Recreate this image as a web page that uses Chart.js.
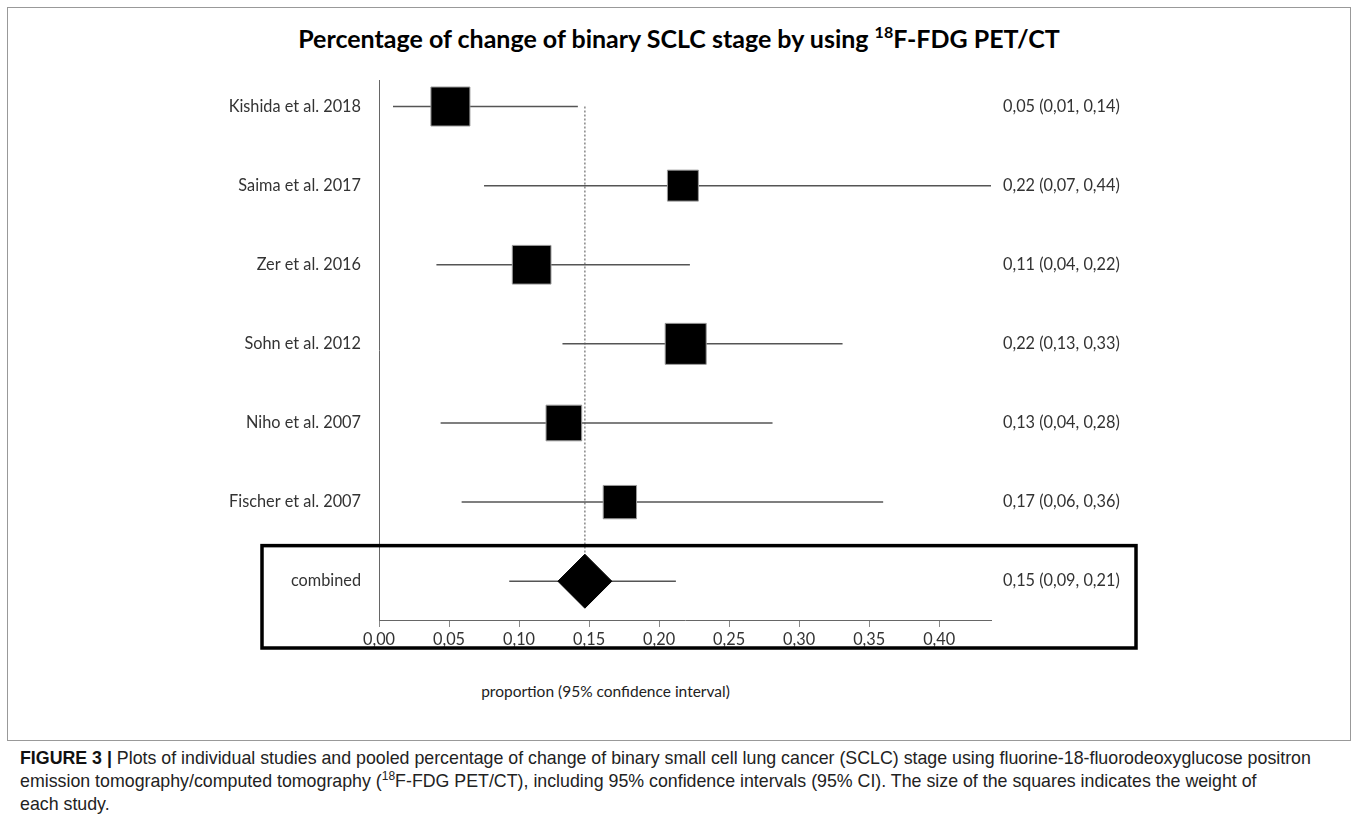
<!DOCTYPE html>
<html>
<head>
<meta charset="utf-8">
<script src="https://cdn.jsdelivr.net/npm/chart.js@4.4.1/dist/chart.umd.min.js"></script>
<style>
  body { margin: 0; background: #fff; width: 1358px; height: 816px; position: relative; overflow: hidden; }
  #frame { position: absolute; left: 7px; top: 7px; width: 1342px; height: 732px; border: 1px solid #999; }
  #title { position: absolute; left: 0; top: 23px; width: 1358px; text-align: center; font: bold 25px Lato, sans-serif; color: #000; }
  #title sup { font-size: 16px; vertical-align: 10px; line-height: 0; }
  #axisTitle { position: absolute; left: 378px; width: 455px; top: 682px; text-align: center; font: 15.5px Lato, sans-serif; color: #222; }
  #wrap { position: absolute; left: 0; top: 0; width: 1358px; height: 660px; }
  #caption { position: absolute; left: 20px; top: 747px; font: 17.8px "Liberation Sans", Arial, sans-serif; color: #222; line-height: 23px; white-space: nowrap; }
  #caption b { color: #111; }
  #caption sup { font-size: 12px; line-height: 0; }
</style>
</head>
<body>
<div id="frame"></div>
<div id="title">Percentage of change of binary SCLC stage by using <sup>18</sup>F-FDG PET/CT</div>
<div id="wrap"><canvas id="forest"></canvas></div>
<div id="axisTitle">proportion (95% confidence interval)</div>
<div id="caption"><b>FIGURE 3 |</b> Plots of individual studies and pooled percentage of change of binary small cell lung cancer (SCLC) stage using fluorine-18-fluorodeoxyglucose positron<br>emission tomography/computed tomography (<sup>18</sup>F-FDG PET/CT), including 95% confidence intervals (95% CI). The size of the squares indicates the weight of<br>each study.</div>
<script>
// studies, top to bottom
const studies = ['Kishida et al. 2018', 'Saima et al. 2017', 'Zer et al. 2016', 'Sohn et al. 2012', 'Niho et al. 2007', 'Fischer et al. 2007'];
const estimates = [0.051, 0.217, 0.109, 0.219, 0.132, 0.172];
const lower = [0.010, 0.075, 0.041, 0.131, 0.044, 0.059];
const upper = [0.142, 0.44, 0.222, 0.331, 0.281, 0.36];
const weights = [18.9, 11.9, 18.6, 20.9, 15.8, 13.8]; // % weight (square area)
const ciLabels = ['0,05 (0,01, 0,14)', '0,22 (0,07, 0,44)', '0,11 (0,04, 0,22)', '0,22 (0,13, 0,33)', '0,13 (0,04, 0,28)', '0,17 (0,06, 0,36)'];

// pooled
const pooledLabel = 'combined';
const pooledEst = 0.147;
const pooledLower = 0.093;
const pooledUpper = 0.212;
const pooledCiLabel = '0,15 (0,09, 0,21)';

const xTicks = [0, 0.05, 0.10, 0.15, 0.20, 0.25, 0.30, 0.35, 0.40];

// row positions: first study on top, combined at 0
const rows = studies.map((s, i) => studies.length - i);
const leftLabels = {}; const rightLabels = {};
studies.forEach((s, i) => { leftLabels[rows[i]] = s; rightLabels[rows[i]] = ciLabels[i]; });
leftLabels[0] = pooledLabel; rightLabels[0] = pooledCiLabel;

const font = { family: 'Lato, sans-serif', size: 16.3 };
const fixedTicks = (scale) => { scale.ticks = [0].concat(rows.slice().reverse()).map(v => ({ value: v })); };

const ciSets = studies.map((s, i) => ({
  type: 'line',
  data: [{ x: lower[i], y: rows[i] }, { x: upper[i], y: rows[i] }],
  borderColor: '#555', borderWidth: 1.5, pointRadius: 0, order: 3
}));
ciSets.push({
  type: 'line',
  data: [{ x: pooledLower, y: 0 }, { x: pooledUpper, y: 0 }],
  borderColor: '#555', borderWidth: 1.5, pointRadius: 0, order: 3
});

const boxPlugin = {
  id: 'pooledBox',
  afterDraw(chart) {
    const { ctx, chartArea, scales } = chart;
    const top = scales.y.getPixelForValue(0.45);
    const bottom = chartArea.bottom + 28;
    const left = chartArea.left - 117;
    const right = chartArea.right + 145;
    ctx.save();
    ctx.strokeStyle = '#000';
    ctx.lineWidth = 3.5;
    ctx.strokeRect(left, top, right - left, bottom - top);
    ctx.restore();
  }
};

new Chart(document.getElementById('forest'), {
  type: 'scatter',
  data: {
    datasets: [
      {
        type: 'line',
        data: [{ x: pooledEst, y: rows[0] }, { x: pooledEst, y: 0 }],
        borderColor: '#888', borderWidth: 1.5, borderDash: [2, 2], pointRadius: 0, order: 4
      },
      ...ciSets,
      {
        data: estimates.map((v, i) => ({ x: v, y: rows[i] })),
        pointStyle: 'rect',
        pointRadius: weights.map(w => Math.sqrt(w) * 8.97 * Math.SQRT1_2),
        backgroundColor: '#000', borderColor: '#999', borderWidth: 1, order: 1
      },
      {
        data: [{ x: pooledEst, y: 0 }],
        pointStyle: 'rectRot', pointRadius: 27,
        backgroundColor: '#000', borderColor: '#000', borderWidth: 1, order: 1
      }
    ]
  },
  options: {
    responsive: true,
    maintainAspectRatio: false,
    animation: false,
    events: [],
    layout: { padding: { top: 80, left: 0, right: 0, bottom: 0 } },
    plugins: { legend: { display: false }, tooltip: { enabled: false } },
    scales: {
      x: {
        type: 'linear', min: 0, max: 0.437,
        afterBuildTicks: (scale) => { scale.ticks = xTicks.map(v => ({ value: v })); },
        afterFit: (scale) => { scale.height = 40; },
        grid: { drawOnChartArea: false, drawTicks: true, tickLength: 7, color: '#888' },
        border: { color: '#666', width: 1 },
        ticks: { font, color: '#333', padding: 3, maxRotation: 0, callback: v => v.toFixed(2).replace('.', ',') }
      },
      y: {
        type: 'linear', min: -0.49, max: 6.335, position: 'left',
        afterBuildTicks: fixedTicks,
        afterFit: (scale) => { scale.width = 379; },
        grid: { display: false, drawTicks: false },
        border: { color: '#666', width: 1 },
        ticks: { font, color: '#333', padding: 18, callback: v => leftLabels[v] }
      },
      y2: {
        type: 'linear', min: -0.49, max: 6.335, position: 'right',
        afterBuildTicks: fixedTicks,
        afterFit: (scale) => { scale.width = 367; },
        grid: { display: false, drawTicks: false },
        border: { display: false },
        ticks: { font, color: '#333', padding: 12, callback: v => rightLabels[v] }
      }
    }
  },
  plugins: [boxPlugin]
});
</script>
</body>
</html>
